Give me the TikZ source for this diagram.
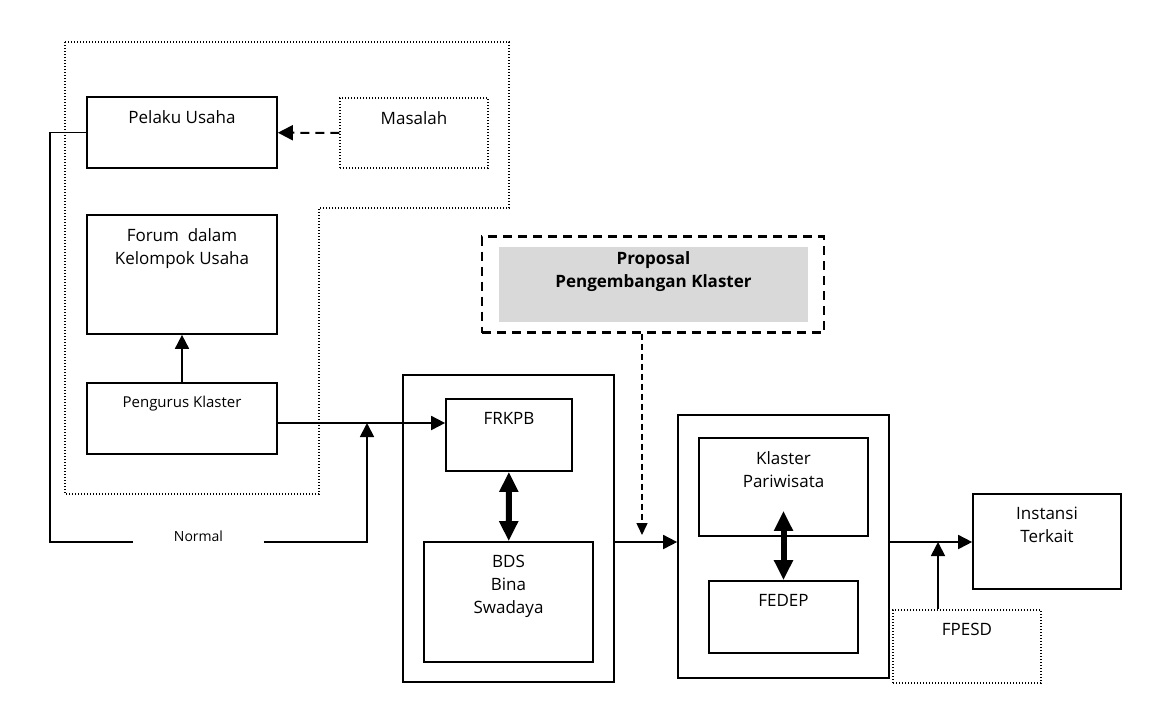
\documentclass[tikz,border=0pt]{standalone}
\usepackage{fontspec}
\setmainfont{Open Sans}
\usepackage{tikz}
\usetikzlibrary{arrows.meta,positioning,calc}
\definecolor{propgray}{RGB}{217,217,217}
\tikzset{
  box/.style={draw, line width=1.7pt, inner sep=0pt},
  dotbox/.style={draw, line width=1.3pt, dash pattern=on 1.3pt off 1.7pt, inner sep=0pt},
  lbl/.style={anchor=north, inner sep=0pt, yshift=-14pt, align=center, font=\fontsize{17}{23}\selectfont},
  grp/.style={line width=1.2pt, dash pattern=on 1.2pt off 1.8pt},
  garis/.style={line width=1.8pt},
  arr/.style={-{Triangle[length=14pt,width=14pt]}, line width=1.8pt},
  darr/.style={-{Triangle[length=15pt,width=15pt]}, line width=2pt, dash pattern=on 9pt off 6pt},
  parr/.style={-{Triangle[length=12pt,width=11pt]}, line width=1.5pt, dash pattern=on 6pt off 4pt},
  dbl/.style={{Triangle[length=20pt,width=18pt]}-{Triangle[length=20pt,width=18pt]}, line width=6pt},
}

\begin{document}
\begin{tikzpicture}[x=1pt, y=-1pt]
  \useasboundingbox (0,0) rectangle (1167,721);
  % kelompok usaha
  \draw[grp] (65,42) -- (509,42) -- (509,208) -- (319,208) -- (319,494) -- (65,494) -- cycle;
  \node[box, minimum width=190pt, minimum height=71pt, label={[lbl]north:Pelaku Usaha}] (pelaku) at (182,132.5) {};
  \node[dotbox, minimum width=148pt, minimum height=70pt, label={[lbl]north:Masalah}] (masalah) at (414,133) {};
  \node[box, minimum width=190pt, minimum height=119pt, label={[lbl]north:Forum\ \ dalam\\Kelompok Usaha}] (forum) at (182,274.5) {};
  \node[box, minimum width=190pt, minimum height=71pt, label={[lbl, font=\fontsize{15}{20}\selectfont]north:Pengurus Klaster}] (pengurus) at (182,418.5) {};
  \node[font=\fontsize{14}{17}\selectfont, minimum width=130pt, inner sep=0pt] (normal) at (198.5,536) {Normal};

  % FRKPB + BDS
  \node[box, minimum width=211pt, minimum height=307pt] (wadah1) at (508.5,528.5) {};
  \node[box, minimum width=126pt, minimum height=72pt, label={[lbl]north:FRKPB}] (frkpb) at (509,435) {};
  \node[box, minimum width=169pt, minimum height=120pt, label={[lbl]north:BDS\\Bina\\Swadaya}] (bds) at (508.5,602) {};

  % proposal
  \node[draw, line width=2.2pt, dash pattern=on 9pt off 6pt, minimum width=342pt, minimum height=96pt] (proposal) at (653,284.5) {};
  \node[fill=propgray, minimum width=309pt, minimum height=75pt, label={[lbl, yshift=9pt, font=\bfseries\fontsize{17}{23}\selectfont]north:Proposal\\Pengembangan Klaster}] (usulan) at (653.5,284.5) {};

  % klaster + FEDEP
  \node[box, minimum width=211pt, minimum height=263pt] (wadah2) at (783.5,546.5) {};
  \node[box, minimum width=169pt, minimum height=98pt, label={[lbl]north:Klaster\\Pariwisata}] (klaster) at (783.5,487) {};
  \node[box, minimum width=149pt, minimum height=72pt, label={[lbl]north:FEDEP}] (fedep) at (783.5,617) {};

  \node[box, minimum width=148pt, minimum height=95pt, label={[lbl]north:Instansi\\Terkait}] (instansi) at (1047,541.5) {};
  \node[dotbox, minimum width=148pt, minimum height=73pt, label={[lbl]north:FPESD}] (fpesd) at (967,646.5) {};

  \coordinate (siku) at (50,542);
  \coordinate (temu) at (367,423);
  \coordinate (turun) at (642,535);
  \coordinate (temu2) at (938,542);

  \draw[darr] (masalah) -- (pelaku);
  \draw[garis] (pelaku.west) -| (siku) -- (siku -| normal.west);
  \draw[arr] (siku -| normal.east) -| (temu);
  \draw[arr] (pengurus) -- (forum);
  \draw[arr] (pengurus.east |- temu) -- (frkpb.west |- temu);
  \draw[dbl] (frkpb) -- (bds);
  \draw[parr] (turun |- proposal.south) -- (turun);
  \draw[arr] (wadah1.east |- siku) -- (wadah2.west |- siku);
  \draw[dbl] ([yshift=26pt]klaster.south) -- (fedep);
  \draw[arr] (wadah2.east |- temu2) -- (instansi.west |- temu2);
  \draw[arr] (fpesd.north -| temu2) -- (temu2);
\end{tikzpicture}
\end{document}
